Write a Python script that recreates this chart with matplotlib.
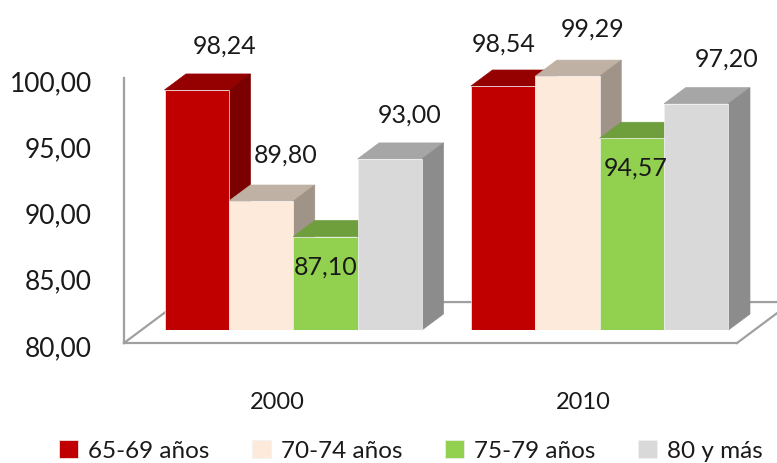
import matplotlib
matplotlib.use("Agg")
import matplotlib.pyplot as plt
from matplotlib.transforms import ScaledTranslation
import numpy as np

years = ["2000", "2010"]
age_bands = ["65-69 años", "70-74 años", "75-79 años", "80 y más"]
band_65_69 = [98.24, 98.54]
band_70_74 = [89.80, 99.29]
band_75_79 = [87.10, 94.57]
band_80_plus = [93.00, 97.20]
y_ticks = [80, 85, 90, 95, 100]

front_colors = ["#C00000", "#FDEADA", "#92D050", "#D9D9D9"]
top_colors = ["#950000", "#BFB1A3", "#6F9E3D", "#A6A6A6"]
side_colors = ["#7B0000", "#A09488", "#5F8A33", "#8C8C8C"]

# label shift from the top centre of each bar, in pixels (band, then year)
label_shift = [[(28, 44), (0, 42)], [(25, 46), (25, 47)],
               [(0, -31), (4, -30)], [(20, 44), (30, 45)]]

W, H = 777, 463
AXIS_COLOR = "#A0A0A0"
TEXT_COLOR = "#1A1A1A"
plt.rcParams["font.family"] = ["Lato", "DejaVu Sans"]


def px_box(left, right, top, bottom):
    return [left / W, 1 - bottom / H, (right - left) / W, (bottom - top) / H]


fig = plt.figure(figsize=(W / 100, H / 100), dpi=100)

# back "wall" axes: carries the axis lines, ticks and floor
ax_wall = fig.add_axes(px_box(124, 737, 78, 343))
ax_wall.set_xlim(-0.5, 1.5)
ax_wall.set_ylim(80, 100)
for side in ["top", "right"]:
    ax_wall.spines[side].set_visible(False)
for side in ["left", "bottom"]:
    ax_wall.spines[side].set_color(AXIS_COLOR)
    ax_wall.spines[side].set_linewidth(1.6)
ax_wall.set_yticks(y_ticks)
ax_wall.set_yticklabels([f"{t:.2f}".replace(".", ",") for t in y_ticks],
                        fontsize=19, color=TEXT_COLOR)
ax_wall.set_xticks(range(len(years)))
ax_wall.set_xticklabels(years, fontsize=17, color=TEXT_COLOR)
ax_wall.tick_params(axis="y", length=0, pad=23)
ax_wall.tick_params(axis="x", length=0, pad=35)
# the value labels sit a little below their gridline position
nudge = ScaledTranslation(0, -3 / 100, fig.dpi_scale_trans)
for lab in ax_wall.get_yticklabels():
    lab.set_transform(lab.get_transform() + nudge)

# floor edges
floor_dx, floor_dy = 0.179, 3.09
ax_wall.plot([-0.5, -0.5 + floor_dx, 1.5 + floor_dx], [80, 80 + floor_dy, 80 + floor_dy],
             color=AXIS_COLOR, lw=1.6, clip_on=False)
ax_wall.plot([1.5, 1.5 + floor_dx], [80, 80 + floor_dy], color=AXIS_COLOR, lw=1.6, clip_on=False)

# bars sit on a plane shifted into the depth
ax = fig.add_axes(px_box(140, 753, 66.8, 330))
ax.set_xlim(-0.5, 1.5)
ax.set_ylim(80, 100)
ax.axis("off")

series = [band_65_69, band_70_74, band_75_79, band_80_plus]
x = np.arange(len(years))
width = 0.21
depth_x, depth_y = 21.5 / 306.5, 16 / 13.16

handles = []
for i, values in enumerate(series):
    xs = x + (i - 1.5) * width
    z = 2 + i
    for x0, v in zip(xs, values):
        left, right = x0 - width / 2, x0 + width / 2
        ax.fill([left, right, right + depth_x, left + depth_x],
                [v, v, v + depth_y, v + depth_y],
                color=top_colors[i], lw=0.5, zorder=z, clip_on=False)
        ax.fill([right, right + depth_x, right + depth_x, right],
                [80, 80 + depth_y, v + depth_y, v],
                color=side_colors[i], lw=0.5, zorder=z, clip_on=False)
    bars = ax.bar(xs, values, width, bottom=0, color=front_colors[i], label=age_bands[i],
                  edgecolor="#F2F2F2", linewidth=0.5, zorder=z + 0.5)
    handles.append(bars)

    for j, (x0, v) in enumerate(zip(xs, values)):
        dx, dy = label_shift[i][j]
        ax.annotate(f"{v:.2f}".replace(".", ","), (x0, v), xytext=(dx * 0.72, dy * 0.72),
                    textcoords="offset points", ha="center", va="center",
                    fontsize=18, color=TEXT_COLOR, zorder=20, annotation_clip=False)

fig.legend(handles=handles, labels=age_bands, ncol=4, frameon=False, fontsize=17.5,
           loc="center", bbox_to_anchor=(411 / W, 1 - 451 / H), labelcolor=TEXT_COLOR,
           handlelength=0.78, handleheight=0.78, handletextpad=0.4, columnspacing=1.77,
           borderpad=0, borderaxespad=0)

fig.savefig("out.png", dpi=100)
